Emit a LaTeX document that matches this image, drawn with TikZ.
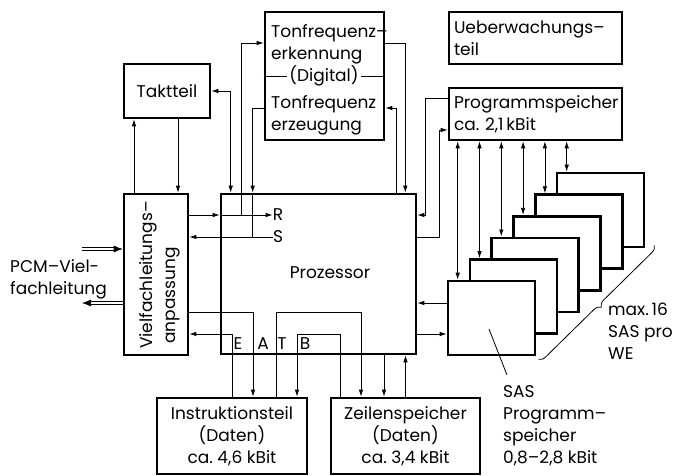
\documentclass[tikz,border=0pt]{standalone}
\usepackage{fontspec}
\setmainfont{Poppins}
\frenchspacing
\usetikzlibrary {arrows.meta,
                 positioning,
                 calc,
                 decorations.pathreplacing}
\tikzset{
        base/.style={draw, rectangle, line width=2.6pt, inner sep=5pt},
        block/.style={base, align=left, text width=163pt, minimum height=52pt},
        sasbox/.style={base, fill=white, minimum width=87pt, minimum height=74pt},
        lbl/.style={inner sep=0pt},
        myarrow/.style={-{Latex[length=7pt,width=4.5pt]}, line width=0.8pt},
        biarrow/.style={{Latex[length=7pt,width=4.5pt]}-{Latex[length=7pt,width=4.5pt]}, line width=0.8pt},
        bus/.style={-{Latex[length=9pt,width=7pt]}, double, double distance=2.4pt, line width=0.6pt},
 }
\begin{document}
\begin{tikzpicture}[x=1pt, y=-1pt, font=\fontsize{17}{22}\selectfont]
    \useasboundingbox (0,0) rectangle (699,476);

    \node[base, minimum width=86pt, minimum height=54pt] (takt) at (167,91) {Taktteil};
    \node[base, minimum width=64pt, minimum height=161pt] (vfa) at (156,274.5) {};
    \node[base, minimum width=195pt, minimum height=160pt] (proz) at (318.5,274) {};
    \node[lbl] (proztxt) at (330,273) {Prozessor};
    \node[base, minimum width=119pt, minimum height=128pt] (ton) at (324.5,76) {};
    \node[block] (ueb) at (535.5,38) {Ueberwachungs–\\teil};
    \node[block] (prog) at (535.5,114) {Programmspeicher\\ca. 2,1\,kBit};
    \foreach \i in {6,5,...,1}
        \node[sasbox] (sas\i) at ({491.5+21.8*(\i-1)},{318-21.6*(\i-1)}) {};
    \node[base, minimum width=150pt, minimum height=76pt, align=center] (instr) at (232,436) {Instruktionsteil\\(Daten)\\ca. 4,6 kBit};
    \node[base, minimum width=149pt, minimum height=76pt, align=center] (zeil) at (405.5,436) {Zeilenspeicher\\(Daten)\\ca. 3,4 kBit};

    % Tonfrequenz
    \draw[line width=0.8pt] (ton.west) -- (ton.east);
    \node[lbl, fill=white, inner xsep=2pt] (dig) at (324,76) {(Digital)};
    \node[lbl, anchor=west, align=left] (tonerk) at (271,44) {Tonfrequenz–\\erkennung};
    \node[lbl, anchor=west, align=left] (tonerz) at (271,115) {Tonfrequenz\\erzeugung};

    % Vielfachleitungsanpassung
    \node[lbl, rotate=90, anchor=base west, fill=white, inner sep=1pt] (vfa1) at (152,350) {Vielfachleitungs–};
    \node[lbl, rotate=90, anchor=base west] (vfa2) at (175,344) {anpassung};

    \node[lbl] (rlab) at (278,215) {R};
    \node[lbl] (slab) at (278,237) {S};
    \node[lbl] (le) at (238,344) {E};
    \node[lbl] (la) at (263,344) {A};
    \node[lbl] (lt) at (282,344) {T};
    \node[lbl] (lb) at (305,344) {B};

    \node[lbl, anchor=west, align=left] (pcm) at (10,279) {PCM–Viel-\\fachleitung};
    \node[lbl, anchor=north west, align=left] (saslab) at (503,385) {SAS\\Programm–\\speicher\\0,8–2,8 kBit};
    \node[lbl, anchor=north west, align=left] (maxlab) at (608,303) {max.\,16\\SAS pro\\WE};

    \coordinate (ptak) at ($(proz.north west)+(11,0)$);
    \coordinate (ptr) at ($(proz.north west)+(22,0)$);
    \coordinate (pts) at ($(proz.north west)+(33,0)$);
    \coordinate (pter) at ($(proz.north east)+(-12,0)$);
    \coordinate (ptez) at ($(proz.north east)+(-21,0)$);
    \coordinate (terk) at ($(ton.center)+(0,-33)$);
    \coordinate (terz) at ($(ton.center)+(0,32)$);
    \coordinate (tk1) at ($(takt.south)+(11,0)$);
    \coordinate (tk2) at ($(takt.south)+(-33,0)$);
    \coordinate (pg1) at ($(prog.west)+(0,-16)$);
    \coordinate (pg2) at ($(prog.west)+(0,16)$);
    \coordinate (s1) at ($(sas1.west)+(0,-15)$);
    \coordinate (s2) at ($(sas1.west)+(0,16)$);
    \coordinate (rowa) at ($(vfa.east)+(0,37.5)$);
    \coordinate (rowe) at ($(vfa.east)+(0,59.5)$);
    \coordinate (ia) at ($(instr.north)+(21,0)$);
    \coordinate (it) at ($(instr.north)+(44,0)$);
    \coordinate (ib) at ($(instr.north)+(65,0)$);
    \coordinate (zt) at ($(zeil.north)+(-44.5,0)$);
    \coordinate (zb) at ($(zeil.north)+(-65.5,0)$);
    \coordinate (zp) at ($(zeil.north)+(-21.5,0)$);
    \coordinate (pcmin) at (82,249);
    \coordinate (pcmout) at (82,303);

    \draw[biarrow] (takt.east) -| (ptak);
    \draw[myarrow] (tk1) -- (tk1 |- vfa.north);
    \draw[myarrow] (tk2 |- vfa.north) -- (tk2);

    \draw[myarrow] (vfa.east |- rlab) -- (proz.west |- rlab);
    \draw[myarrow] (proz.west |- rlab) -- (rlab.west);
    \draw[myarrow] (slab.west) -- (vfa.east |- slab);
    \draw[myarrow] (ptr |- rlab) |- (terk -| ton.west);
    \draw[myarrow] (terz -| ton.west) -| (pts);
    \draw[line width=0.8pt] (pts) -- (pts |- slab);
    \draw[myarrow] (terk -| ton.east) -| (pter);
    \draw[myarrow] (ptez) |- (terz -| ton.east);

    \draw[myarrow] (pg1) -- ++(-22,0) |- (proz.east |- rlab);
    \draw[myarrow] (proz.east |- slab) -- ++(22,0) |- (pg2);
    \draw[myarrow] (s1) -- (s1 -| proz.east);
    \draw[myarrow] (s2 -| proz.east) -- (s2);
    \foreach \i in {1,...,6}{
        \coordinate (q\i) at ($(sas\i.north west)+(11,0)$);
        \draw[biarrow] (q\i |- prog.south) -- (q\i);
    }

    \draw[myarrow] (rowa) -| (ia);
    \draw[myarrow] (instr.north) |- (rowe);
    \draw[myarrow] (it) -- (it |- rowa) -| (zt);
    \draw[myarrow] (zb) -- (zb |- rowe) -| (ib);
    \draw[myarrow] (zp |- proz.south) -- (zp);
    \draw[myarrow] (zeil.north) -- (zeil.north |- proz.south);

    \draw[bus] (pcmin) -- (pcmin -| vfa.west);
    \draw[bus] (pcmout -| vfa.west) -- (pcmout);

    \draw[line width=0.8pt] ([xshift=4pt,yshift=10pt]saslab.north west) -- ([xshift=-2.5pt,yshift=-11pt]sas1.center);
    \draw[line width=0.8pt, decorate, decoration={brace, amplitude=7pt}]
        ([xshift=9pt,yshift=3pt]sas6.south east) -- ([xshift=2pt,yshift=-3pt]sas1.south east);
\end{tikzpicture}
\end{document}
